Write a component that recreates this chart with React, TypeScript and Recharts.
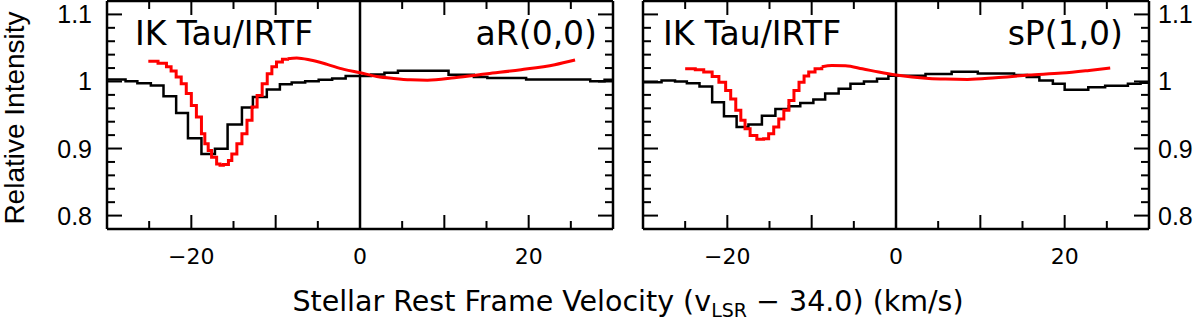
import React from 'react';
import { LineChart, Line, XAxis, YAxis, ReferenceLine } from 'recharts';

// ---------- data ----------
const xTicks = [-25, -20, -15, -10, -5, 0, 5, 10, 15, 20, 25];
const xLabelValues = [-20, 0, 20];
const xTickLabels = ['\u221220', '0', '20'];
const yTicks = [0.8, 0.82, 0.84, 0.86, 0.88, 0.9, 0.92, 0.94, 0.96, 0.98, 1.0, 1.02, 1.04, 1.06, 1.08, 1.1];
const yLabelValues = [0.8, 0.9, 1.0, 1.1];
const yTickLabels = ['0.8', '0.9', '1', '1.1'];

// left panel aR(0,0): observed (histogram, left bin edges)
const obsLeftV = [-30, -27.8, -26.4, -24.8, -23.3, -21.8, -20.4, -18.8, -17.2, -15.7, -14.0, -12.7, -11.05, -9.5, -8.1, -6.5, -4.9, -3.3, -1.7, 1.3, 2.9, 4.5, 10.5, 13.5, 15.1, 19.7, 27.3, 29.0, 30];
const obsLeftI = [1.003, 1.0005, 0.9975, 0.994, 0.978, 0.953, 0.9155, 0.892, 0.8995, 0.936, 0.961, 0.977, 0.988, 0.996, 0.9985, 1.0005, 1.0025, 1.0045, 1.008, 1.0105, 1.013, 1.016, 1.01, 1.0065, 1.005, 1.003, 1.0005, 1.0025, 1.0025];
// left panel model (stepped core, smooth wing)
const modLeftCoreV = [-25.1, -23.95, -22.95, -22.4, -21.8, -21.2, -20.6, -20.0, -19.4, -18.8, -18.4, -18.0, -17.6, -17.0, -16.6, -16.2, -15.6, -15.2, -14.6, -14.0, -13.4, -12.8, -12.2, -11.6, -11.0, -10.45, -9.9, -9.2, -8.6];
const modLeftCoreI = [1.03, 1.027, 1.022, 1.0155, 1.0065, 0.9965, 0.982, 0.964, 0.947, 0.922, 0.907, 0.897, 0.887, 0.877, 0.875, 0.876, 0.882, 0.892, 0.907, 0.922, 0.942, 0.962, 0.979, 0.9965, 1.0115, 1.022, 1.029, 1.033, 1.034];
const modLeftWingV = [-8.6, -7.5, -5.9, -3.9, -1.9, 0, 2.0, 4.0, 6.0, 8.0, 11.2, 15.1, 19.1, 23.1, 25.5];
const modLeftWingI = [1.034, 1.035, 1.032, 1.0255, 1.018, 1.013, 1.0075, 1.0045, 1.0025, 1.002, 1.0055, 1.0115, 1.0175, 1.025, 1.032];

// right panel sP(1,0)
const obsRightV = [-30, -27.8, -26.2, -24.8, -23.3, -21.8, -20.4, -18.9, -17.5, -15.9, -14.3, -12.7, -11.35, -9.8, -8.4, -6.8, -5.4, -3.8, -2.25, -0.9, 3.5, 6.6, 9.7, 14.0, 15.5, 17.0, 18.6, 20.0, 22.8, 24.8, 27.5, 29.0, 30];
const obsRightI = [0.999, 1.0015, 1.0, 0.9975, 0.9925, 0.969, 0.948, 0.932, 0.936, 0.949, 0.959, 0.963, 0.968, 0.973, 0.982, 0.989, 0.9965, 1.0, 1.004, 1.0085, 1.011, 1.0145, 1.012, 1.0095, 1.0065, 1.0015, 0.9965, 0.9875, 0.9915, 0.9935, 0.9965, 0.998, 0.998];
const modRightCoreV = [-25.0, -23.8, -22.8, -21.8, -21.0, -20.2, -19.6, -19.0, -18.4, -17.9, -17.3, -16.5, -15.7, -15.1, -14.5, -13.9, -13.3, -12.7, -12.1, -11.5, -10.9, -10.35, -9.6, -8.8];
const modRightCoreI = [1.019, 1.0175, 1.014, 1.0075, 0.999, 0.9866, 0.974, 0.957, 0.942, 0.9295, 0.9195, 0.914, 0.9145, 0.922, 0.932, 0.944, 0.957, 0.9715, 0.9866, 0.999, 1.008, 1.014, 1.019, 1.022];
const modRightWingV = [-8.8, -7.6, -6.0, -4.0, -2.05, 0, 1.9, 3.9, 5.85, 8.5, 11.8, 15.7, 19.7, 22.9, 25.4];
const modRightWingI = [1.022, 1.024, 1.0235, 1.019, 1.014, 1.0095, 1.0065, 1.0045, 1.0035, 1.003, 1.0055, 1.0095, 1.0125, 1.0165, 1.02];

const panelTitles = ['IK Tau/IRTF', 'IK Tau/IRTF'];
const panelLines = ['aR(0,0)', 'sP(1,0)'];

const toPts = (v: number[], i: number[]) => v.map((x, k) => ({ v: x, i: i[k] }));

const TICK_FONT_X = '"DejaVu Sans", sans-serif';
const TICK_FONT_Y = '"Liberation Sans", Arial, sans-serif';

const isMajorX = (v: number) => Math.abs(v % 10) < 1e-6;
const isMajorY = (v: number) => Math.abs(v * 10 - Math.round(v * 10)) < 1e-6;

const BottomTick = (props: any) => {
  const { x, y, payload } = props;
  const v = payload.value;
  const len = isMajorX(v) ? 14 : 8;
  const idx = xLabelValues.indexOf(v);
  return (
    <g>
      <line x1={x} y1={y} x2={x} y2={y - len} stroke="#000" strokeWidth={2} />
      {idx >= 0 && (
        <text x={x} y={y + 35} textAnchor="middle" fontFamily={TICK_FONT_X} fontSize={22} fill="#000">
          {xTickLabels[idx]}
        </text>
      )}
    </g>
  );
};

const TopTick = (props: any) => {
  const { x, y, payload } = props;
  const len = isMajorX(payload.value) ? 14 : 8;
  return <line x1={x} y1={y} x2={x} y2={y + len} stroke="#000" strokeWidth={2} />;
};

const makeYTick = (side: 'left' | 'right', showLabels: boolean) => (props: any) => {
  const { x, y, payload } = props;
  const v = payload.value;
  const len = isMajorY(v) ? 15 : 8;
  const dir = side === 'left' ? 1 : -1;
  let idx = -1;
  yLabelValues.forEach((lv, k) => {
    if (Math.abs(lv - v) < 1e-6) idx = k;
  });
  return (
    <g>
      <line x1={x} y1={y} x2={x + dir * len} y2={y} stroke="#000" strokeWidth={2} />
      {showLabels && idx >= 0 && (
        <text
          x={side === 'left' ? x - 15 : x + 9}
          y={y + 9}
          textAnchor={side === 'left' ? 'end' : 'start'}
          fontFamily={TICK_FONT_Y}
          fontSize={25}
          fill="#000"
        >
          {yTickLabels[idx]}
        </text>
      )}
    </g>
  );
};

type PanelProps = {
  left: number;
  width: number;
  margin: { top: number; right: number; bottom: number; left: number };
  obs: { v: number; i: number }[];
  core: { v: number; i: number }[];
  wing: { v: number; i: number }[];
  labelSide: 'left' | 'right';
};

const axisLineStyle = { stroke: '#000', strokeWidth: 2.5 };

const Panel = ({ left, width, margin, obs, core, wing, labelSide }: PanelProps) => (
  <div style={{ position: 'absolute', left, top: 0 }}>
    <LineChart width={width} height={326} margin={margin}>
      <XAxis
        xAxisId="b"
        dataKey="v"
        type="number"
        domain={[-30, 30]}
        allowDataOverflow
        ticks={xTicks}
        interval={0}
        tickSize={0}
        tickMargin={0}
        tickLine={false}
        tick={BottomTick}
        height={1}
        axisLine={axisLineStyle}
      />
      <XAxis
        xAxisId="t"
        orientation="top"
        dataKey="v"
        type="number"
        domain={[-30, 30]}
        allowDataOverflow
        ticks={xTicks}
        interval={0}
        tickSize={0}
        tickMargin={0}
        tickLine={false}
        tick={TopTick}
        height={1}
        axisLine={axisLineStyle}
      />
      <YAxis
        yAxisId="l"
        type="number"
        domain={[0.78, 1.12]}
        allowDataOverflow
        ticks={yTicks}
        interval={0}
        tickSize={0}
        tickMargin={0}
        tickLine={false}
        tick={makeYTick('left', labelSide === 'left')}
        width={1}
        axisLine={axisLineStyle}
      />
      <YAxis
        yAxisId="r"
        orientation="right"
        type="number"
        domain={[0.78, 1.12]}
        allowDataOverflow
        ticks={yTicks}
        interval={0}
        tickSize={0}
        tickMargin={0}
        tickLine={false}
        tick={makeYTick('right', labelSide === 'right')}
        width={1}
        axisLine={axisLineStyle}
      />
      <ReferenceLine xAxisId="b" yAxisId="l" x={0} stroke="#000" strokeWidth={2.5} />
      <Line xAxisId="b" yAxisId="l" data={obs} dataKey="i" type="stepAfter" stroke="#000" strokeWidth={2.5} dot={false} isAnimationActive={false} />
      <Line xAxisId="b" yAxisId="l" data={core} dataKey="i" type="stepAfter" stroke="#ff0000" strokeWidth={3} dot={false} isAnimationActive={false} />
      <Line xAxisId="b" yAxisId="l" data={wing} dataKey="i" type="monotone" stroke="#ff0000" strokeWidth={3} dot={false} isAnimationActive={false} />
    </LineChart>
  </div>
);

export default function App() {
  const annFont = '"DejaVu Sans", sans-serif';
  return (
    <div style={{ position: 'absolute', left: 0, top: 0, width: 1200, height: 326, background: '#fff' }}>
      <Panel
        left={0}
        width={640}
        margin={{ top: 0, right: 26, bottom: 96, left: 106 }}
        obs={toPts(obsLeftV, obsLeftI)}
        core={toPts(modLeftCoreV, modLeftCoreI)}
        wing={toPts(modLeftWingV, modLeftWingI)}
        labelSide="left"
      />
      <Panel
        left={600}
        width={600}
        margin={{ top: 0, right: 50, bottom: 96, left: 42 }}
        obs={toPts(obsRightV, obsRightI)}
        core={toPts(modRightCoreV, modRightCoreI)}
        wing={toPts(modRightWingV, modRightWingI)}
        labelSide="right"
      />
      <svg width={1200} height={326} style={{ position: 'absolute', left: 0, top: 0, pointerEvents: 'none' }}>
        <text x={135} y={45} fontFamily={annFont} fontSize={33} fill="#000">{panelTitles[0]}</text>
        <text x={597} y={45} textAnchor="end" fontFamily={annFont} fontSize={33} fill="#000">{panelLines[0]}</text>
        <text x={663} y={45} fontFamily={annFont} fontSize={33} fill="#000">{panelTitles[1]}</text>
        <text x={1123} y={45} textAnchor="end" fontFamily={annFont} fontSize={33} fill="#000">{panelLines[1]}</text>
        <text
          transform="translate(24,118) rotate(-90)"
          textAnchor="middle"
          fontFamily={TICK_FONT_Y}
          fontSize={28}
          fill="#000"
        >
          Relative Intensity
        </text>
        <text x={628} y={311} textAnchor="middle" fontFamily={annFont} fontSize={28.5} fill="#000">
          Stellar Rest Frame Velocity (v
          <tspan fontSize={19} dy={6}>LSR</tspan>
          <tspan dy={-6}> {'\u2212'} 34.0) (km/s)</tspan>
        </text>
      </svg>
    </div>
  );
}
